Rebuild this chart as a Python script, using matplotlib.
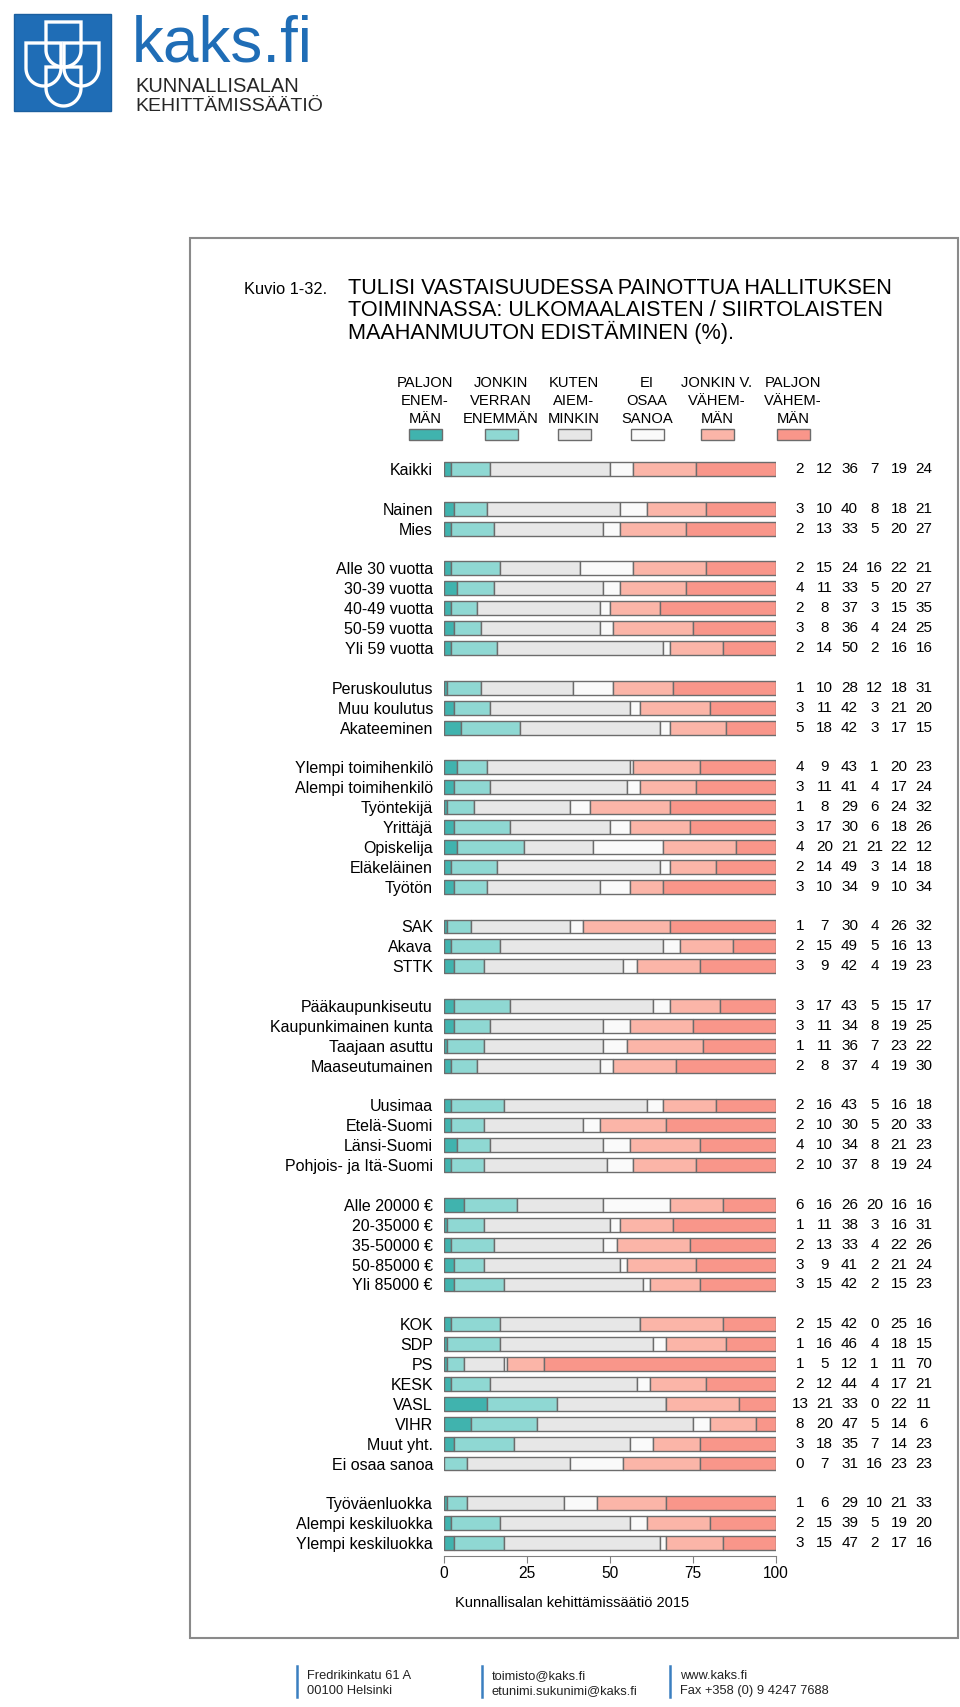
import numpy as np
import matplotlib
matplotlib.use('Agg')
import matplotlib.pyplot as plt
from matplotlib import font_manager
from matplotlib.patches import Rectangle, Polygon
from matplotlib.transforms import blended_transform_factory

plt.rcParams['font.family'] = ['Liberation Sans', 'DejaVu Sans']
names = {f.name for f in font_manager.fontManager.ttflist}
HAS_NARROW = 'Liberation Sans Narrow' in names
NARROW = ['Liberation Sans Narrow', 'Liberation Sans', 'DejaVu Sans']

# ── Data ──
groups = [
    ['Kaikki'],
    ['Nainen', 'Mies'],
    ['Alle 30 vuotta', '30-39 vuotta', '40-49 vuotta', '50-59 vuotta', 'Yli 59 vuotta'],
    ['Peruskoulutus', 'Muu koulutus', 'Akateeminen'],
    ['Ylempi toimihenkilö', 'Alempi toimihenkilö', 'Työntekijä', 'Yrittäjä',
     'Opiskelija', 'Eläkeläinen', 'Työtön'],
    ['SAK', 'Akava', 'STTK'],
    ['Pääkaupunkiseutu', 'Kaupunkimainen kunta', 'Taajaan asuttu', 'Maaseutumainen'],
    ['Uusimaa', 'Etelä-Suomi', 'Länsi-Suomi', 'Pohjois- ja Itä-Suomi'],
    ['Alle 20000 €', '20-35000 €', '35-50000 €', '50-85000 €', 'Yli 85000 €'],
    ['KOK', 'SDP', 'PS', 'KESK', 'VASL', 'VIHR', 'Muut yht.', 'Ei osaa sanoa'],
    ['Työväenluokka', 'Alempi keskiluokka', 'Ylempi keskiluokka'],
]

legend_labels = [
    ['PALJON', 'ENEM-', 'MÄN'],
    ['JONKIN', 'VERRAN', 'ENEMMÄN'],
    ['KUTEN', 'AIEM-', 'MINKIN'],
    ['EI', 'OSAA', 'SANOA'],
    ['JONKIN V.', 'VÄHEM-', 'MÄN'],
    ['PALJON', 'VÄHEM-', 'MÄN'],
]

paljon_enemman = [2, 3, 2, 2, 4, 2, 3, 2, 1, 3, 5, 4, 3, 1, 3, 4, 2, 3, 1, 2, 3,
                  3, 3, 1, 2, 2, 2, 4, 2, 6, 1, 2, 3, 3, 2, 1, 1, 2, 13, 8, 3, 0,
                  1, 2, 3]
jonkin_enemman = [12, 10, 13, 15, 11, 8, 8, 14, 10, 11, 18, 9, 11, 8, 17, 20, 14, 10,
                  7, 15, 9, 17, 11, 11, 8, 16, 10, 10, 10, 16, 11, 13, 9, 15,
                  15, 16, 5, 12, 21, 20, 18, 7, 6, 15, 15]
kuten_aiemmin = [36, 40, 33, 24, 33, 37, 36, 50, 28, 42, 42, 43, 41, 29, 30, 21, 49, 34,
                 30, 49, 42, 43, 34, 36, 37, 43, 30, 34, 37, 26, 38, 33, 41, 42,
                 42, 46, 12, 44, 33, 47, 35, 31, 29, 39, 47]
ei_osaa = [7, 8, 5, 16, 5, 3, 4, 2, 12, 3, 3, 1, 4, 6, 6, 21, 3, 9, 4, 5, 4,
           5, 8, 7, 4, 5, 5, 8, 8, 20, 3, 4, 2, 2, 0, 4, 1, 4, 0, 5, 7, 16,
           10, 5, 2]
jonkin_vahemman = [19, 18, 20, 22, 20, 15, 24, 16, 18, 21, 17, 20, 17, 24, 18, 22, 14, 10,
                   26, 16, 19, 15, 19, 23, 19, 16, 20, 21, 19, 16, 16, 22, 21, 15,
                   25, 18, 11, 17, 22, 14, 14, 23, 21, 19, 17]
paljon_vahemman = [24, 21, 27, 21, 27, 35, 25, 16, 31, 20, 15, 23, 24, 32, 26, 12, 18, 34,
                   32, 13, 23, 17, 25, 22, 30, 18, 33, 23, 24, 16, 31, 26, 24, 23,
                   16, 15, 70, 21, 11, 6, 23, 23, 33, 20, 16]

series = [paljon_enemman, jonkin_enemman, kuten_aiemmin,
          ei_osaa, jonkin_vahemman, paljon_vahemman]
colors = ['#40b3ae', '#8fd8d3', '#e7e7e7', '#fafafa', '#fbb5a8', '#f9968a']
edge = '#6c6c6c'

# ── Row positions (blank row between groups) ──
pos, labels = [], []
slot = 0
for g in groups:
    for lab in g:
        pos.append(slot)
        labels.append(lab)
        slot += 1
    slot += 1
for s in series:
    assert len(s) == len(labels)

W, H = 960, 1707
fig = plt.figure(figsize=(W / 100, H / 100), dpi=100)

# background axes in pixel coordinates
bg = fig.add_axes([0, 0, 1, 1])
bg.set_xlim(0, W)
bg.set_ylim(H, 0)
bg.axis('off')

# ── Logo ──
bg.add_patch(Rectangle((14, 14), 97, 97, facecolor='#1f6db6', edgecolor='#1a5f9f', lw=1))


def shield(x0, x1, ytop, yside, ybot):
    t = np.linspace(0, np.pi, 40)
    xc, rx = (x0 + x1) / 2, (x1 - x0) / 2
    arc = np.column_stack([xc + rx * np.cos(t), yside + (ybot - yside) * np.sin(t)])
    pts = np.vstack([[[x0, ytop], [x1, ytop]], arc])
    return Polygon(pts, closed=True, fill=False, edgecolor='white', lw=2.4)


for sh in [(46, 81, 22, 50, 67), (26, 61, 43, 68, 86),
           (64, 99, 43, 68, 86), (46, 81, 67, 88, 106)]:
    bg.add_patch(shield(*sh))

bg.text(132, 62, 'kaks.fi', family=NARROW, fontsize=54 if HAS_NARROW else 46,
        color='#1f6db6', ha='left', va='baseline')
bg.text(135, 92, 'KUNNALLISALAN', fontsize=14.5, color='#262626', va='baseline')
bg.text(135, 111, 'KEHITTÄMISSÄÄTIÖ', fontsize=14, color='#262626', va='baseline')

# ── Frame ──
bg.add_patch(Rectangle((190, 238), 768, 1400, fill=False, edgecolor='#8a8a8a', lw=1.5))

# ── Title ──
bg.text(244, 294, 'Kuvio 1-32.', fontsize=11.8, va='baseline')
title_lines = ['TULISI VASTAISUUDESSA PAINOTTUA HALLITUKSEN',
               'TOIMINNASSA: ULKOMAALAISTEN / SIIRTOLAISTEN',
               'MAAHANMUUTON EDISTÄMINEN (%).']
for i, line in enumerate(title_lines):
    bg.text(348, 294 + 22.5 * i, line, fontsize=15.6, va='baseline')

# ── Legend ──
leg_x = [425, 501, 574, 647, 717, 793]
for k, lines in enumerate(legend_labels):
    for j, line in enumerate(lines):
        bg.text(leg_x[k], 387 + 18 * j, line, fontsize=10.6, ha='center', va='baseline')
    bg.add_patch(Rectangle((leg_x[k] - 16, 429), 33, 11, facecolor=colors[k],
                           edgecolor=edge, lw=1))

# ── Bars ──
pitch = 19.89
y_first = 469
ax_top, ax_bot = 457, 1556
ax = fig.add_axes([444 / W, 1 - ax_bot / H, 332 / W, (ax_bot - ax_top) / H])
ax.patch.set_alpha(0)
ax.set_xlim(0, 100)
ax.set_ylim((ax_bot - y_first) / pitch, (ax_top - y_first) / pitch)

left = np.zeros(len(labels))
for k, s in enumerate(series):
    vals = np.array(s, dtype=float)
    ax.barh(pos, vals, left=left, height=0.7, color=colors[k],
            edgecolor=edge, linewidth=1)
    left += vals

for side in ['top', 'right', 'left']:
    ax.spines[side].set_visible(False)
ax.spines['bottom'].set_bounds(0, 100)
ax.spines['bottom'].set_color('#808080')
ax.set_xticks([0, 25, 50, 75, 100])
ax.tick_params(axis='x', direction='out', length=5, color='#808080',
               labelsize=11.2, pad=2)
ax.set_yticks(pos, labels, fontsize=11.5)
ax.tick_params(axis='y', length=0, pad=8)

# value columns on the right
trans = blended_transform_factory(bg.transData, ax.transData)
for k, s in enumerate(series):
    for p, v in zip(pos, s):
        bg.text(800 + 24.8 * k, p, str(v), transform=trans, fontsize=11,
                ha='center', va='center')

bg.text(572, 1603, 'Kunnallisalan kehittämissäätiö 2015', fontsize=10.5,
        ha='center', va='center')

# ── Footer ──
footer = [(297, 'Fredrikinkatu 61 A', '00100 Helsinki'),
          (482, 'toimisto@kaks.fi', 'etunimi.sukunimi@kaks.fi'),
          (670, 'www.kaks.fi', 'Fax +358 (0) 9 4247 7688')]
for x, l1, l2 in footer:
    bg.plot([x, x], [1666, 1697], color='#3a7fc0', lw=1.8)
    fs = 11 if HAS_NARROW else 9.3
    bg.text(x + 10, 1679, l1, family=NARROW, fontsize=fs, color='#222222', va='baseline')
    bg.text(x + 10, 1694, l2, family=NARROW, fontsize=fs, color='#222222', va='baseline')

fig.savefig('out.png', dpi=100)
